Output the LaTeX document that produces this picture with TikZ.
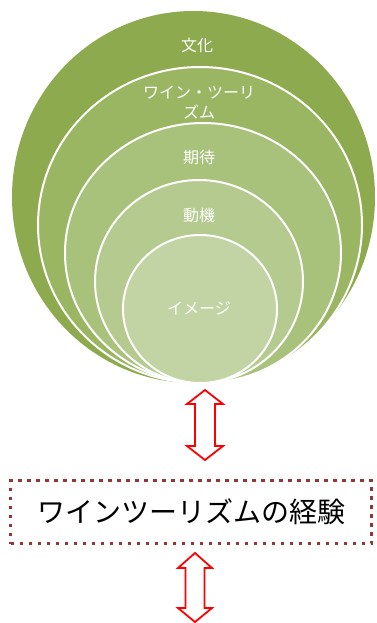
\documentclass[tikz,border=0pt]{standalone}
\usepackage{fontspec}
\newfontfamily\jp{Noto Sans CJK JP}
\definecolor{gA}{HTML}{8DAA4E}
\definecolor{gB}{HTML}{9AB663}
\definecolor{gC}{HTML}{A8C17B}
\definecolor{gD}{HTML}{B4CA8F}
\definecolor{gE}{HTML}{C2D4A3}
\definecolor{boxred}{HTML}{943634}
\tikzset{
  ring/.style={draw=white, line width=2pt},
  lbl/.style={text=white, font=\jp\fontsize{16}{20}\selectfont, align=center, inner sep=0pt},
  dblarrow/.style={draw=red, fill=white, line width=1.8pt, line join=miter},
  dotbox/.style={draw=boxred, line width=3.5pt, dash pattern=on 3.5pt off 5.5pt, minimum width=361pt, minimum height=63pt, inner sep=0pt, font=\jp\fontsize{28}{32}\selectfont}
}
\begin{document}
\begin{tikzpicture}[x=1pt,y=-1pt]
\useasboundingbox (0,0) rectangle (377,623);
\clip (0,0) rectangle (377,623);
% circles
\fill[gA] (193.5,197) ellipse [x radius=181.5, y radius=186];
\filldraw[ring, fill=gB] (200,225) ellipse [x radius=162, y radius=158];
\filldraw[ring, fill=gC] (203,253) ellipse [x radius=138, y radius=130];
\filldraw[ring, fill=gD] (199,281.5) ellipse [x radius=104, y radius=101.5];
\filldraw[ring, fill=gE] (200,309) ellipse [x radius=77, y radius=74];
% labels
\node[lbl] (c1) at (197,45) {文化};
\node[lbl] (c2) at (199,103) {ワイン・ツーリ\\ズム};
\node[lbl] (c3) at (199,157) {期待};
\node[lbl] (c4) at (199,215) {動機};
\node[lbl] (c5) at (199,308) {イメージ};
% upper double arrow
\draw[dblarrow] (205,390) -- (223,404) -- (215,404) -- (215,446) -- (223,446) -- (205,460)
  -- (187,446) -- (195,446) -- (195,404) -- (187,404) -- cycle;
% box
\node[dotbox] (exp) at (191,512) {ワインツーリズムの経験};
% lower double arrow
\draw[dblarrow] (195,553) -- (212,568) -- (204.5,568) -- (204.5,608) -- (212,608) -- (195,622)
  -- (178,608) -- (185.5,608) -- (185.5,568) -- (178,568) -- cycle;
\end{tikzpicture}
\end{document}
